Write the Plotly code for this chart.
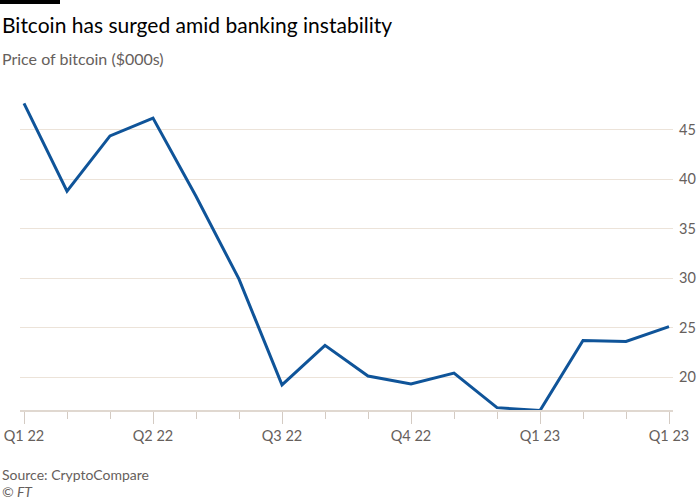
import plotly.graph_objects as go

# ---- data ----
x_index = list(range(16))
price_thousands = [47.7, 38.8, 44.4, 46.2, 38.3, 29.9, 19.2, 23.2, 20.1, 19.3,
                   20.4, 16.9, 16.6, 23.7, 23.6, 25.1]
tick_positions = [0, 3, 6, 9, 12, 15]
tick_labels = ["Q1 22", "Q2 22", "Q3 22", "Q4 22", "Q1 23", "Q1 23"]
y_ticks = [20, 25, 30, 35, 40, 45]

W, H = 700, 500
ML, MR, MT, MB = 20, 27, 96, 90
PW, PH = W - ML - MR, H - MT - MB

def px_x(px):
    return (px - ML) / PW

def px_y(py):
    return (H - MB - py) / PH

FONT = "Lato"
GREY = "#66605c"

fig = go.Figure()
fig.add_trace(go.Scatter(
    x=x_index, y=price_thousands, mode="lines",
    line=dict(color="#0f5499", width=3),
    hoverinfo="skip", showlegend=False,
))

fig.update_layout(
    width=W, height=H,
    margin=dict(l=ML, r=MR, t=MT, b=MB, pad=0, autoexpand=False),
    paper_bgcolor="white", plot_bgcolor="white",
    font=dict(family=FONT, color=GREY, size=14),
    xaxis=dict(
        range=[-0.093, 15.093], automargin=False,
        tickmode="array", tickvals=tick_positions, ticktext=tick_labels,
        ticks="outside", ticklen=12, tickwidth=1, tickcolor="#d4cbc3",
        showgrid=False, zeroline=False,
        showline=True, linecolor="#e0d8d0", linewidth=2,
        minor=dict(dtick=1, tick0=0, ticks="outside", ticklen=7,
                   tickwidth=1, tickcolor="#d4cbc3", showgrid=False),
        tickfont=dict(size=14.5, color=GREY, family=FONT),
    ),
    yaxis=dict(
        range=[16.66, 48.44], side="right", automargin=False,
        tickmode="array", tickvals=y_ticks, ticklabelstandoff=5,
        showgrid=True, gridcolor="#ece3d9", gridwidth=1,
        zeroline=False, showline=False, ticks="",
        tickfont=dict(size=14.5, color=GREY, family=FONT),
    ),
    shapes=[dict(type="rect", xref="paper", yref="paper",
                 x0=px_x(0), x1=px_x(60), y0=px_y(0), y1=px_y(4),
                 fillcolor="black", line=dict(width=0))],
    annotations=[
        dict(text="Bitcoin has surged amid banking instability",
             xref="paper", yref="paper", x=px_x(0), y=px_y(24),
             xanchor="left", yanchor="middle", showarrow=False,
             font=dict(size=21, color="black", family=FONT)),
        dict(text="Price of bitcoin ($000s)",
             xref="paper", yref="paper", x=px_x(0), y=px_y(58),
             xanchor="left", yanchor="middle", showarrow=False,
             font=dict(size=16, color=GREY, family=FONT)),
        dict(text="Source: CryptoCompare",
             xref="paper", yref="paper", x=px_x(0), y=px_y(474),
             xanchor="left", yanchor="middle", showarrow=False,
             font=dict(size=14, color=GREY, family=FONT)),
        dict(text="<i>© FT</i>",
             xref="paper", yref="paper", x=px_x(0), y=px_y(491),
             xanchor="left", yanchor="middle", showarrow=False,
             font=dict(size=14, color=GREY, family=FONT)),
    ],
)

fig.write_html("out.html")
